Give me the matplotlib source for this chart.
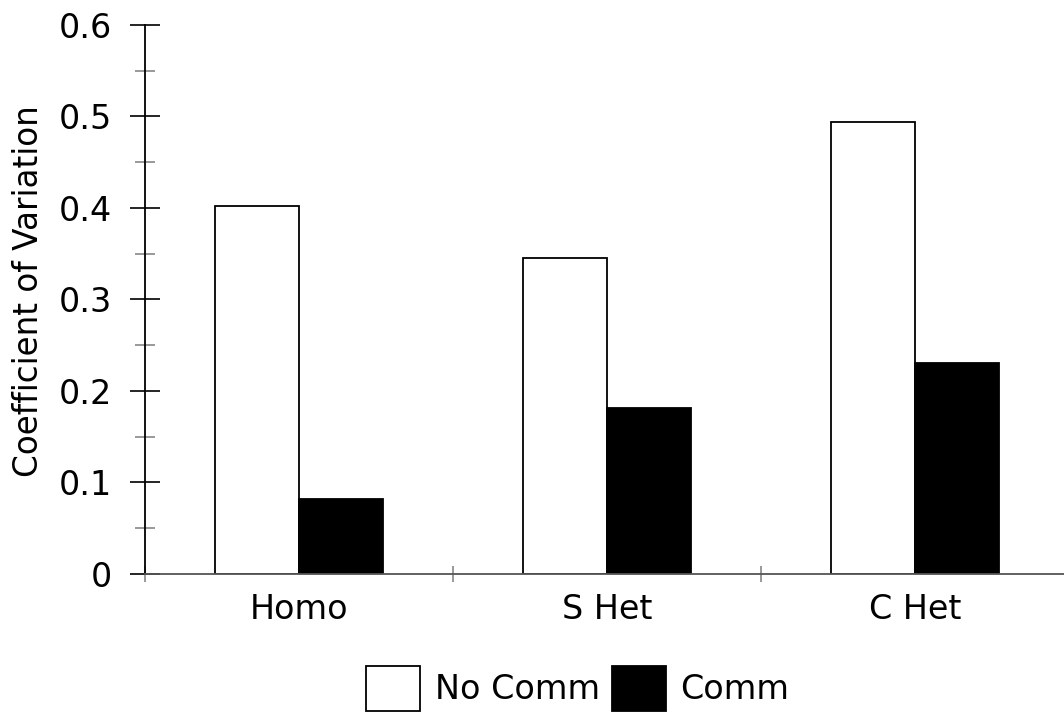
import matplotlib
matplotlib.use('Agg')
import matplotlib.pyplot as plt
import numpy as np

groups = ['Homo', 'S Het', 'C Het']
no_comm = [0.402, 0.345, 0.494]
comm = [0.082, 0.181, 0.231]
yticks = [0, 0.1, 0.2, 0.3, 0.4, 0.5, 0.6]
ytick_labels = ['0', '0.1', '0.2', '0.3', '0.4', '0.5', '0.6']

plt.rcParams['font.family'] = ['DejaVu Sans']

fig = plt.figure(figsize=(10.64, 7.13), dpi=100)
ax = fig.add_axes([0.1363, 0.195, 0.8637, 0.770])

x = np.arange(len(groups))
w = 0.273
ax.bar(x - w, no_comm, w, align='edge', color='white', edgecolor='black', linewidth=1.3, label='No Comm')
ax.bar(x, comm, w, align='edge', color='black', edgecolor='black', linewidth=1.3, label='Comm')

ax.set_xlim(-0.5, 2.484)
ax.set_ylim(0, 0.6)

ax.spines['top'].set_visible(False)
ax.spines['right'].set_visible(False)
ax.spines['left'].set_color('black')
ax.spines['left'].set_linewidth(1.3)
ax.spines['bottom'].set_color('#555555')
ax.spines['bottom'].set_linewidth(1.3)

ax.set_yticks(yticks)
ax.set_yticklabels(ytick_labels)
ax.set_yticks(np.arange(0.05, 0.6, 0.1), minor=True)
ax.tick_params(axis='y', which='major', direction='inout', length=21, width=1.2,
               color='black', labelsize=24, pad=13)
ax.tick_params(axis='y', which='minor', direction='inout', length=13.7, width=1.2,
               color='#888888')

ax.set_xticks(x)
ax.set_xticklabels(groups)
ax.set_xticks([-0.5, 0.5, 1.5], minor=True)
ax.tick_params(axis='x', which='major', length=0, labelsize=24, pad=13.5)
ax.tick_params(axis='x', which='minor', direction='inout', length=12, width=1.2,
               color='#888888')

ax.set_ylabel('Coefficient of Variation', fontsize=23.5)
ax.yaxis.set_label_coords(-0.109, 0.5146)

fig.legend(loc='center', bbox_to_anchor=(0.543, 0.035), ncol=2, frameon=False,
           fontsize=24, handlelength=1.62, handleheight=1.7, handletextpad=0.44,
           columnspacing=0.35, borderpad=0, borderaxespad=0)

plt.savefig('out.png', dpi=100)
